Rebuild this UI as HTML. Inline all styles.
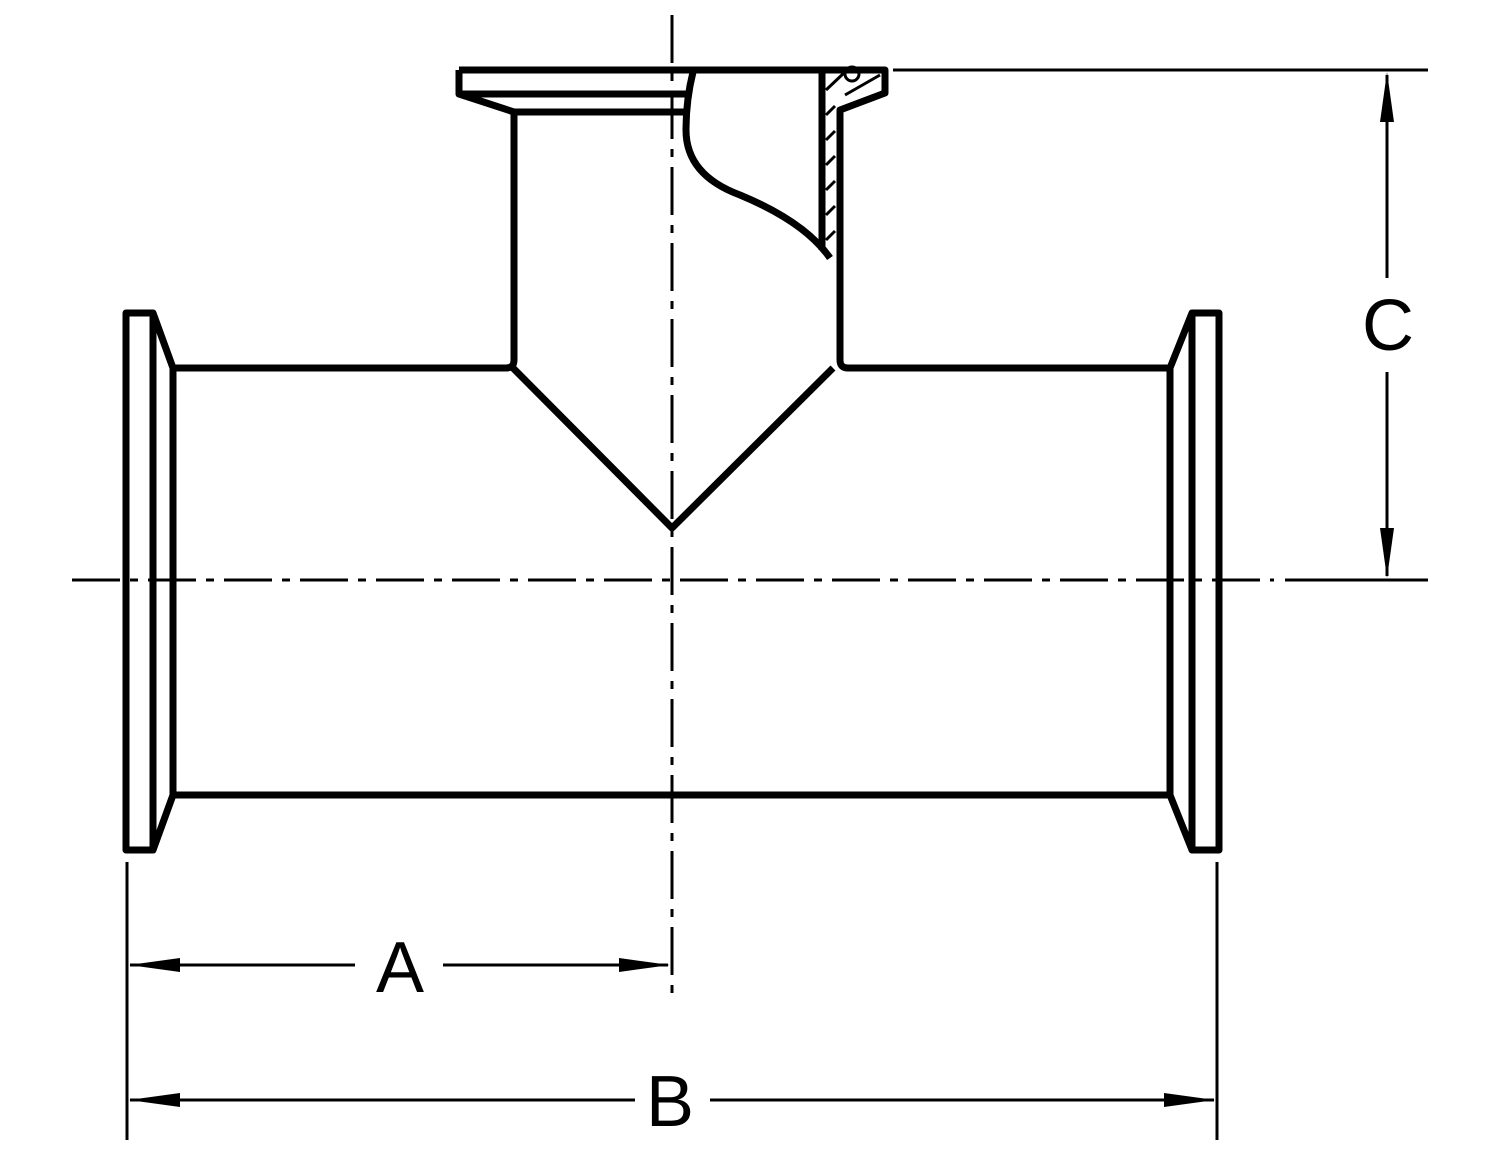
<!DOCTYPE html>
<html><head><style>body{margin:0;background:#fff}svg{display:block}</style></head><body>
<svg width="1500" height="1159" viewBox="0 0 1500 1159" xmlns="http://www.w3.org/2000/svg">
<g fill="none" stroke="#000" stroke-linejoin="round">
<line x1="672" y1="15" x2="672" y2="1003" stroke-width="3" stroke-dasharray="48,10,8,10"/>
<line x1="72" y1="580" x2="1274" y2="580" stroke-width="3" stroke-dasharray="48,10,8,10"/>
<g stroke-width="7">
<path d="M459,70 H885 V93 L840,110 V360 Q840,368 848,368 H1170"/>
<path d="M459,70 V94 L514,112 V360 Q514,368 506,368 H173"/>
<line x1="461" y1="94" x2="690" y2="94"/>
<line x1="514" y1="112" x2="686" y2="112"/>
<path d="M693,72 Q686,100 686,130 Q686,175 740,195 Q805,222 830,258"/>
<line x1="822" y1="72" x2="822" y2="250"/>
<path d="M513,368 L672,528 L833,368"/>
<line x1="173" y1="795" x2="1170" y2="795"/>
<path d="M126,313 H153 L173,368 V795 L153,850 H126 Z"/>
<line x1="153" y1="313" x2="153" y2="850"/>
<path d="M1219,313 H1192 L1170,368 V795 L1192,850 H1219 Z"/>
<line x1="1192" y1="313" x2="1192" y2="850"/>
</g>
<g stroke-width="3">
<path d="M826,90 L845,72 M826,115 L835,106 M826,140 L835,131 M826,165 L835,156 M826,190 L835,181 M826,215 L835,206 M826,240 L835,231 M845,95 L880,75"/>
<circle cx="852" cy="74" r="7"/>
<line x1="893" y1="70" x2="1428" y2="70"/>
<line x1="1285" y1="580" x2="1428" y2="580"/>
<line x1="1387" y1="75" x2="1387" y2="278"/>
<line x1="1387" y1="372" x2="1387" y2="576"/>
<line x1="127" y1="862" x2="127" y2="1140"/>
<line x1="1217" y1="862" x2="1217" y2="1140"/>
<line x1="130" y1="965" x2="355" y2="965"/>
<line x1="443" y1="965" x2="668" y2="965"/>
<line x1="130" y1="1100" x2="635" y2="1100"/>
<line x1="710" y1="1100" x2="1214" y2="1100"/>
</g>
</g>
<g fill="#000">
<polygon points="1387,72 1380,122 1394,122"/>
<polygon points="1387,578 1380,528 1394,528"/>
<polygon points="129,965 180,958 180,972"/>
<polygon points="670,965 619,958 619,972"/>
<polygon points="129,1100 180,1093 180,1107"/>
<polygon points="1215,1100 1164,1093 1164,1107"/>
</g>
<g font-family="Liberation Sans, sans-serif" font-size="72" text-anchor="middle" fill="#000">
<text x="1388" y="350">C</text>
<text x="400" y="992">A</text>
<text x="670" y="1126">B</text>
</g>
</svg>
</body></html>
